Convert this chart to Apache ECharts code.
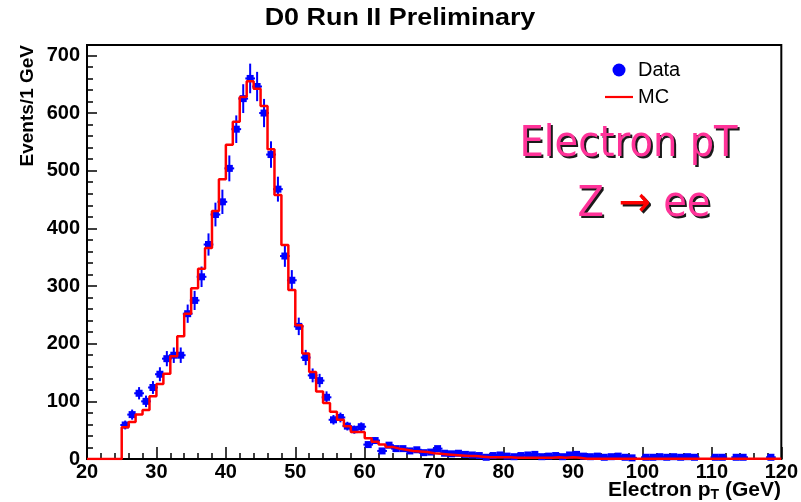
<!DOCTYPE html>
<html>
<head>
<meta charset="utf-8">
<script src="https://cdn.jsdelivr.net/npm/echarts@6/dist/echarts.min.js"></script>
<style>html,body{margin:0;padding:0;background:#fff}#c{width:801px;height:502px}</style>
</head>
<body>
<div id="c"></div>
<script>
// ---- data ----
const xTicks = [20, 30, 40, 50, 60, 70, 80, 90, 100, 110, 120];
const yTicks = [0, 100, 200, 300, 400, 500, 600, 700];

// Data: bin centres (GeV) and event counts per 1 GeV bin (null = empty bin)
const dataCenters = [25.5,26.5,27.5,28.5,29.5,30.5,31.5,32.5,33.5,34.5,35.5,36.5,37.5,38.5,39.5,
  40.5,41.5,42.5,43.5,44.5,45.5,46.5,47.5,48.5,49.5,50.5,51.5,52.5,53.5,54.5,55.5,56.5,57.5,58.5,59.5,
  60.5,61.5,62.5,63.5,64.5,65.5,66.5,67.5,68.5,69.5,70.5,71.5,72.5,73.5,74.5,75.5,76.5,77.5,78.5,79.5,
  80.5,81.5,82.5,83.5,84.5,85.5,86.5,87.5,88.5,89.5,90.5,91.5,92.5,93.5,94.5,95.5,96.5,97.5,98.5,99.5,
  100.5,101.5,102.5,103.5,104.5,105.5,106.5,107.5,108.5,109.5,110.5,111.5,112.5,113.5,114.5,115.5,116.5,117.5,118.5,119.5];
const dataCounts = [59,77,114,100,124,147,174,180,180,252,275,316,372,424,446,
  504,572,625,660,646,600,528,468,352,310,230,176,145,136,107,68,72,57,51,56,
  25,32,14,24,18,18,14,16,11,12,18,10,9,10,8,7,6,3,6,7,
  5,4,6,7,8,4,5,6,4,7,8,5,4,5,3,4,5,3,2,null,
  3,3,4,3,4,3,4,3,null,null,3,3,null,3,3,null,null,null,3,null];

// MC: lower bin edges (GeV) and histogram contents
const mcLowEdges = [20,21,22,23,24,25,26,27,28,29,30,31,32,33,34,35,36,37,38,39,
  40,41,42,43,44,45,46,47,48,49,50,51,52,53,54,55,56,57,58,59,
  60,61,62,63,64,65,66,67,68,69,70,71,72,73,74,75,76,77,78,79,
  80,81,82,83,84,85,86,87,88,89,90,91,92,93,94,95,96,97,98,99,
  100,101,102,103,104,105,106,107,108,109,110,111,112,113,114,115,116,117,118,119,120];
const mcValues = [0,0,0,0,0,55,64,77,85,109,130,148,178,213,252,296,330,366,430,485,
  545,585,628,655,642,612,537,458,371,293,232,183,151,117,97,82,68,57,47,47,
  36,30,25,21,18,16,14,13,12,10,9,8,7,6,5,5,4,3,3,3,
  3,2,2,2,2,2,2,3,2,3,2,0.5,0.5,0.5,0.5,0.5,0.5,0.5,0.5,0.5,
  0.5,0.5,0.5,0.5,0.5,0.5,0.5,0.5,0.5,0.5,0.5,0.5,0.5,0.5,0.5,0.5,0.5,0.5,0.5,0.5,0.5];

// ---- build ----
const mcSeriesData = mcLowEdges.map((e, i) => [e, mcValues[i]]);
const pts = [], errs = [];
dataCenters.forEach((x, i) => {
  const v = dataCounts[i];
  if (v === null) return;
  pts.push([x, v]);
  errs.push([x, v, Math.sqrt(v)]);
});

const FONT = 'Liberation Sans';
const PINK = '#ff3399';
const SHADOW = '#1a1a1a';
function bigText(x, y, colors, z) {
  return {type: 'text', x: x, y: y, scaleY: 1.1, z: z,
    style: {text: '{p|Electron pT}', align: 'left', verticalAlign: 'middle',
      rich: {p: {fontFamily: 'DejaVu Sans', fontSize: 38.5, fill: colors[0], color: colors[0]}}}};
}
function zText(x, y, colors, z) {
  return {type: 'text', x: x, y: y, scaleY: 1.1, z: z,
    style: {text: '{p|Z}{r|→}{p|ee}', align: 'left', verticalAlign: 'middle',
      rich: {
        p: {fontFamily: 'DejaVu Sans', fontSize: 38.5, fill: colors[0], color: colors[0]},
        r: {fontFamily: 'DejaVu Sans', fontSize: 38.5, fill: colors[1], color: colors[1], padding: [0, 12, 0, 15]}
      }}};
}

const chart = echarts.init(document.getElementById('c'), null, {renderer: 'canvas'});
chart.setOption({
  backgroundColor: '#fff',
  animation: false,
  legend: {
    orient: 'vertical', left: 605, top: 60, padding: 0, itemGap: 7,
    itemWidth: 28, itemHeight: 13,
    textStyle: {fontFamily: FONT, fontSize: 20, color: '#000'},
    data: [
      {name: 'Data', icon: 'circle'},
      {name: 'MC', icon: 'path://M0,0L28,0L28,2.2L0,2.2Z'}
    ]
  },
  grid: {left: 87, right: 18, top: 45, bottom: 43, show: true, borderColor: '#000', borderWidth: 2, backgroundColor: 'transparent'},
  xAxis: {
    type: 'value', min: xTicks[0], max: xTicks[xTicks.length - 1], interval: 10,
    axisLine: {lineStyle: {color: '#000', width: 2}},
    axisTick: {inside: true, length: 12, lineStyle: {color: '#000', width: 1.5}},
    minorTick: {show: true, splitNumber: 5, length: 6, lineStyle: {color: '#000', width: 1.5}},
    axisLabel: {fontFamily: FONT, fontSize: 20, fontWeight: 'bold', color: '#000', margin: 3},
    splitLine: {show: false}
  },
  yAxis: {
    type: 'value', min: yTicks[0], max: 718, interval: 100,
    axisLine: {show: true, lineStyle: {color: '#000', width: 2}},
    axisTick: {show: true, inside: true, length: 10, lineStyle: {color: '#000', width: 1.5}},
    minorTick: {show: true, splitNumber: 5, length: 6, lineStyle: {color: '#000', width: 1.5}},
    axisLabel: {fontFamily: FONT, fontSize: 20, fontWeight: 'bold', color: '#000', margin: 7,
      formatter: v => (yTicks.indexOf(v) >= 0 ? String(v) : '')},
    splitLine: {show: false}
  },
  graphic: [
    {type: 'text', x: 400, y: 19, scaleX: 1.17,
      style: {text: 'D0 Run II Preliminary', fontFamily: FONT, fontSize: 23, fontWeight: 'bold', fill: '#000', align: 'center', verticalAlign: 'middle'}},
    {type: 'text', x: 28, y: 45, rotation: Math.PI / 2,
      style: {text: 'Events/1 GeV', fontFamily: FONT, fontSize: 19, fontWeight: 'bold', fill: '#000', align: 'right', verticalAlign: 'middle'}},
    {type: 'text', x: 781, y: 490,
      style: {text: '{b|Electron p}{s|T}{b| (GeV)}', align: 'right', verticalAlign: 'middle',
        rich: {
          b: {fontFamily: FONT, fontSize: 21, fontWeight: 'bold', fill: '#000', color: '#000'},
          s: {fontFamily: FONT, fontSize: 14, fontWeight: 'bold', fill: '#000', color: '#000', padding: [10, 0, 0, 0]}
        }}},
    bigText(521.5, 146.5, [SHADOW], 10),
    bigText(519.5, 144.5, [PINK], 11),
    zText(579.5, 206.5, [SHADOW, SHADOW], 10),
    zText(577.5, 204.5, [PINK, '#ff0000'], 11)
  ],
  series: [
    {
      type: 'custom', name: 'errors', silent: true, z: 3,
      data: errs,
      renderItem: function (params, api) {
        const x = api.value(0), y = api.value(1), e = api.value(2);
        const t = api.coord([x, y + e]), b = api.coord([x, Math.max(0, y - e)]);
        const l = api.coord([x - 0.7, y]), r = api.coord([x + 0.7, y]);
        return {type: 'group', children: [
          {type: 'line', shape: {x1: t[0], y1: t[1], x2: b[0], y2: b[1]}, style: {stroke: '#0000ff', lineWidth: 2}},
          {type: 'line', shape: {x1: l[0], y1: l[1], x2: r[0], y2: r[1]}, style: {stroke: '#0000ff', lineWidth: 2}}
        ]};
      }
    },
    {
      type: 'scatter', name: 'Data', data: pts, symbol: 'rect', symbolSize: 7, z: 4,
      itemStyle: {color: '#0000ff', opacity: 1}
    },
    {
      type: 'line', name: 'MC', data: mcSeriesData, step: 'end', symbol: 'none', showSymbol: false, z: 5,
      lineStyle: {color: '#ff0000', width: 2.5}, itemStyle: {color: '#ff0000'}
    }
  ]
});
</script>
</body>
</html>
